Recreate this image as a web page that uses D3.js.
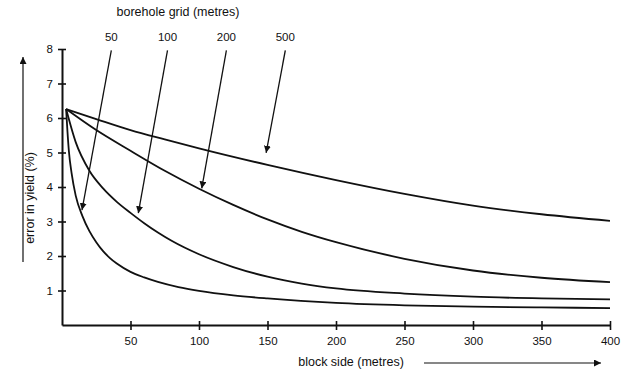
<!DOCTYPE html>
<html>
<head>
<meta charset="utf-8">
<script src="https://cdn.jsdelivr.net/npm/d3@7/dist/d3.min.js"></script>
<style>
  body { margin: 0; background: #fff; }
  svg { display: block; font-family: "Liberation Sans", Arial, Helvetica, sans-serif; }
</style>
</head>
<body>
<div id="chart"></div>
<script>
// borehole grid spacings (metres), one curve each
const gridSizes = [50, 100, 200, 500];

// [block side (m), error in yield (%)]
const grid50 = [[3, 6.26], [4, 5.6], [5, 5.05], [7, 4.4], [10, 3.75], [15, 3.15], [20, 2.72], [25, 2.4],
  [30, 2.14], [35, 1.94], [40, 1.78], [50, 1.54], [60, 1.38], [70, 1.25], [85, 1.1], [100, 0.99],
  [125, 0.86], [150, 0.77], [200, 0.64], [250, 0.57], [300, 0.53], [350, 0.51], [400, 0.49]];
const grid100 = [[3, 6.26], [10, 5.3], [20, 4.47], [30, 3.96], [40, 3.57], [50, 3.25], [60, 2.95],
  [70, 2.68], [80, 2.44], [100, 2.05], [125, 1.68], [150, 1.4], [175, 1.2], [200, 1.06], [250, 0.91],
  [300, 0.82], [350, 0.77], [400, 0.74]];
const grid200 = [[3, 6.26], [25, 5.65], [50, 5.05], [75, 4.47], [100, 3.95], [125, 3.48], [150, 3.06],
  [175, 2.7], [200, 2.4], [250, 1.92], [300, 1.58], [350, 1.37], [400, 1.24]];
const grid500 = [[3, 6.26], [25, 5.97], [50, 5.65], [75, 5.38], [100, 5.12], [150, 4.64], [200, 4.2],
  [250, 3.8], [300, 3.46], [350, 3.21], [400, 3.02]];

const xTicks = [50, 100, 150, 200, 250, 300, 350, 400];
const yTicks = [1, 2, 3, 4, 5, 6, 7, 8];

// label arrows: where each label sits (x) and where its arrow points
const labelX = [36, 77, 120, 163];
const tipX = [14.6, 55.7, 102, 149];
const tipY = [3.33, 3.24, 3.96, 4.99];

const width = 628;
const height = 387;

const svg = d3.select('#chart')
  .append('svg')
  .attr('width', width)
  .attr('height', height);

const x = d3.scaleLinear().domain([0, 400]).range([62, 610]);
const y = d3.scaleLinear().domain([0, 8]).range([325, 49]);

const ink = '#111';

svg.append('defs').append('marker')
  .attr('id', 'head')
  .attr('viewBox', '0 0 10 10')
  .attr('refX', 10)
  .attr('refY', 5)
  .attr('markerWidth', 7)
  .attr('markerHeight', 7)
  .attr('markerUnits', 'userSpaceOnUse')
  .attr('orient', 'auto')
  .append('path')
  .attr('d', 'M0,0 L10,5 L0,10 Z')
  .attr('fill', ink);

// axes
const yAxis = svg.append('g')
  .attr('transform', `translate(${x(0)},0)`)
  .call(d3.axisLeft(y).tickValues(yTicks).tickSize(4).tickSizeOuter(0).tickPadding(5));
yAxis.selectAll('.tick line').attr('x1', -4).attr('x2', 4);

const xAxis = svg.append('g')
  .attr('transform', `translate(0,${y(0)})`)
  .call(d3.axisBottom(x).tickValues(xTicks).tickSize(4).tickSizeOuter(0).tickPadding(8));
xAxis.selectAll('.tick line').attr('y1', -4).attr('y2', 5);

svg.selectAll('.domain').attr('stroke', ink).attr('stroke-width', 2);
svg.selectAll('.tick line').attr('stroke', ink).attr('stroke-width', 1.6);
svg.selectAll('.tick text')
  .attr('fill', ink)
  .attr('font-size', 11.5)
  .attr('font-family', '"Liberation Sans", Arial, sans-serif');

// curves
const line = d3.line()
  .x(d => x(d[0]))
  .y(d => y(d[1]))
  .curve(d3.curveMonotoneX);

svg.selectAll('.curve')
  .data([grid50, grid100, grid200, grid500])
  .enter().append('path')
  .attr('class', 'curve')
  .attr('d', line)
  .attr('fill', 'none')
  .attr('stroke', ink)
  .attr('stroke-width', 1.8);

// grid labels with arrows
const labels = svg.selectAll('.gridlabel')
  .data(gridSizes)
  .enter().append('g')
  .attr('class', 'gridlabel');

labels.append('text')
  .attr('x', (d, i) => x(labelX[i]))
  .attr('y', y(8.24))
  .attr('text-anchor', 'middle')
  .attr('font-size', 11.5)
  .attr('fill', ink)
  .text(d => d);

labels.append('line')
  .attr('x1', (d, i) => x(labelX[i]))
  .attr('y1', y(7.96))
  .attr('x2', (d, i) => x(tipX[i]))
  .attr('y2', (d, i) => y(tipY[i]))
  .attr('stroke', ink)
  .attr('stroke-width', 1.3)
  .attr('marker-end', 'url(#head)');

svg.append('text')
  .attr('x', 178)
  .attr('y', 16)
  .attr('text-anchor', 'middle')
  .attr('font-size', 12.5)
  .attr('fill', ink)
  .text('borehole grid (metres)');

// x axis title and arrow
svg.append('text')
  .attr('x', 351)
  .attr('y', 366)
  .attr('text-anchor', 'middle')
  .attr('font-size', 12.5)
  .attr('fill', ink)
  .text('block side (metres)');

svg.append('line')
  .attr('x1', 424).attr('y1', 363)
  .attr('x2', 601).attr('y2', 363)
  .attr('stroke', ink)
  .attr('stroke-width', 1.2)
  .attr('marker-end', 'url(#head)');

// y axis title and arrow
svg.append('text')
  .attr('transform', 'translate(34,198) rotate(-90)')
  .attr('text-anchor', 'middle')
  .attr('font-size', 12.5)
  .attr('fill', ink)
  .text('error in yield (%)');

svg.append('line')
  .attr('x1', 23).attr('y1', 262)
  .attr('x2', 23).attr('y2', 57)
  .attr('stroke', ink)
  .attr('stroke-width', 1.2)
  .attr('marker-end', 'url(#head)');
</script>
</body>
</html>
